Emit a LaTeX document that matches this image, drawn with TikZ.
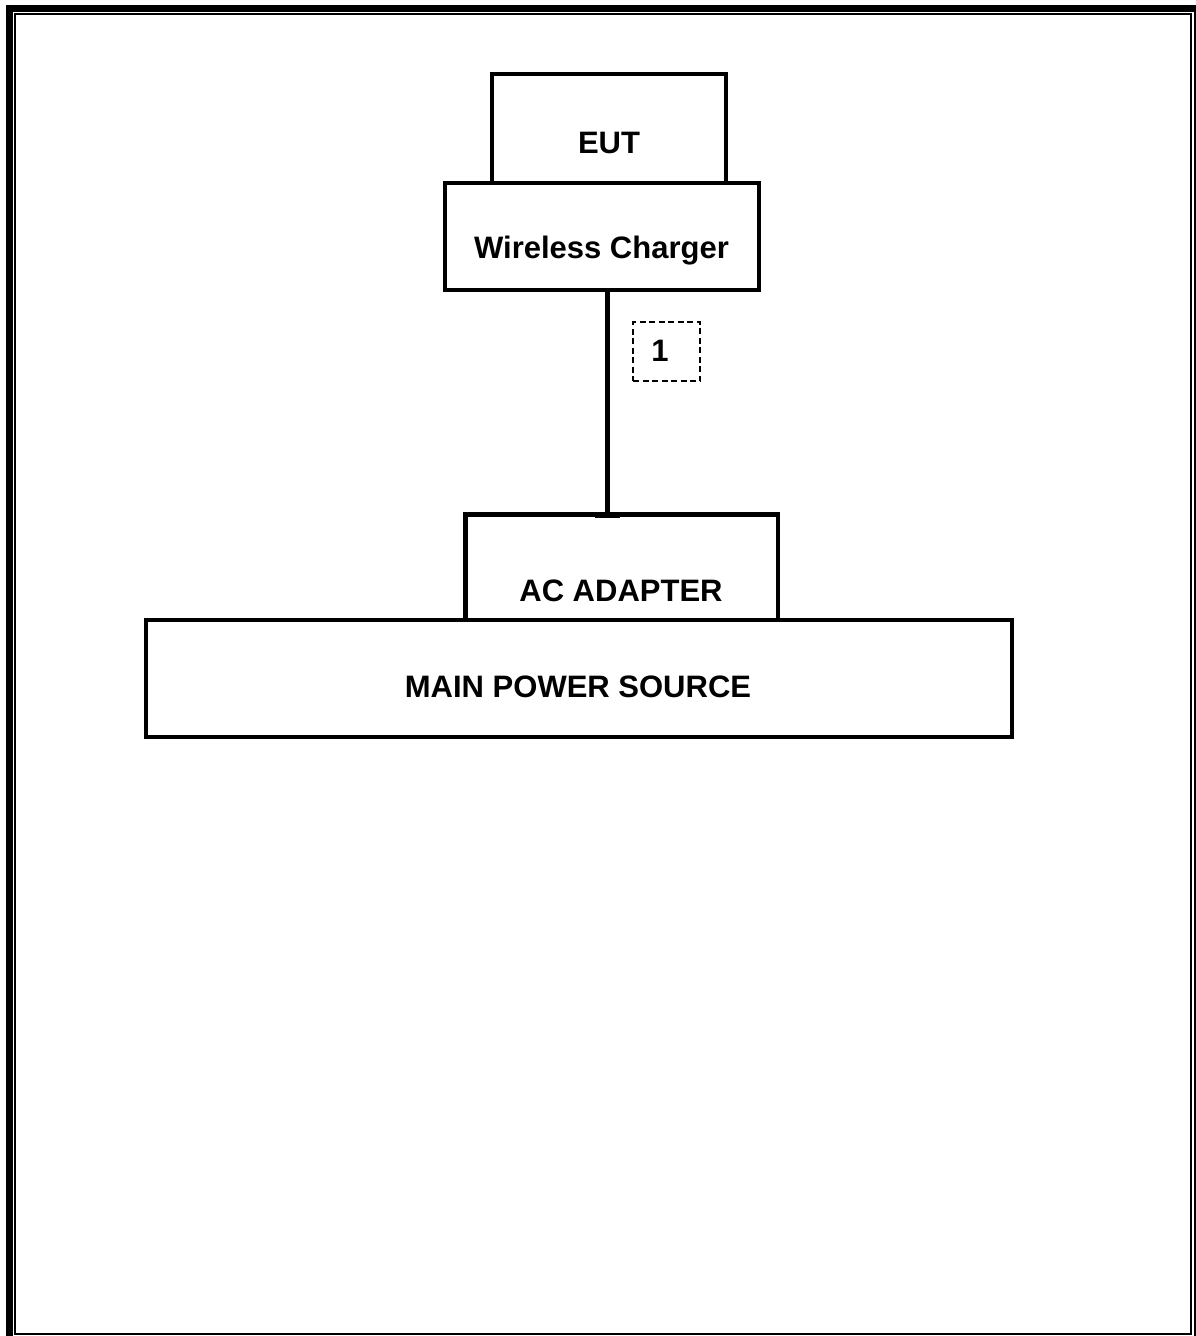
\documentclass[tikz,border=0pt]{standalone}
\usepackage{fontspec}
\setmainfont{Liberation Sans}
\usetikzlibrary{shapes,arrows,calc}
\tikzstyle{line} = [draw, line width=5pt]
\tikzstyle{block} = [draw, rectangle, line width=4.5pt, inner sep=0pt]
\tikzstyle{tag} = [draw, rectangle, dash pattern=on 6pt off 3.5pt, line width=1.5pt, inner sep=0pt]
\tikzstyle{plugcap} = [fill, rectangle, inner sep=0pt, minimum width=25pt, minimum height=6pt]
\tikzstyle{txt} = [anchor=base, inner sep=0pt, font=\fontsize{31}{37}\selectfont\bfseries]

\begin{document}
\begin{tikzpicture}[x=1pt, y=-1pt]
        \useasboundingbox (0,0) rectangle (1196,1336);
        % page frame
        \draw[line width=6.5pt] (9.5,8.5) rectangle (1197.5,1342);
        \draw[line width=2pt] (14.5,14) rectangle (1191,1334.3);
        \node[block, minimum width=234pt, minimum height=109pt] (eut) at (609,128.5) {};
        \node[block, minimum width=314pt, minimum height=107pt] (charger) at (602,236.5) {};
        \node[block, minimum width=312.5pt, minimum height=105.5pt] (adapter) at (621.75,567.25) {};
        \node[block, minimum width=866pt, minimum height=117pt] (mains) at (579,678.5) {};
        \node[tag, minimum width=67pt, minimum height=59pt] (cable) at (666.5,351.5) {};
        \node[plugcap] (plug) at (607.5,515) {};
        \node[txt] (euttext) at (609,153) {EUT};
        \node[txt] (chargertext) at (601.5,258) {Wireless Charger};
        \node[txt] (cabletext) at (660,361) {1};
        \node[txt] (adaptertext) at (621,601) {AC ADAPTER};
        \node[txt] (mainstext) at (578,697) {MAIN POWER SOURCE};
        \path[line] (plug.center) -- (plug.center |- charger.south);
    \end{tikzpicture}
\end{document}
